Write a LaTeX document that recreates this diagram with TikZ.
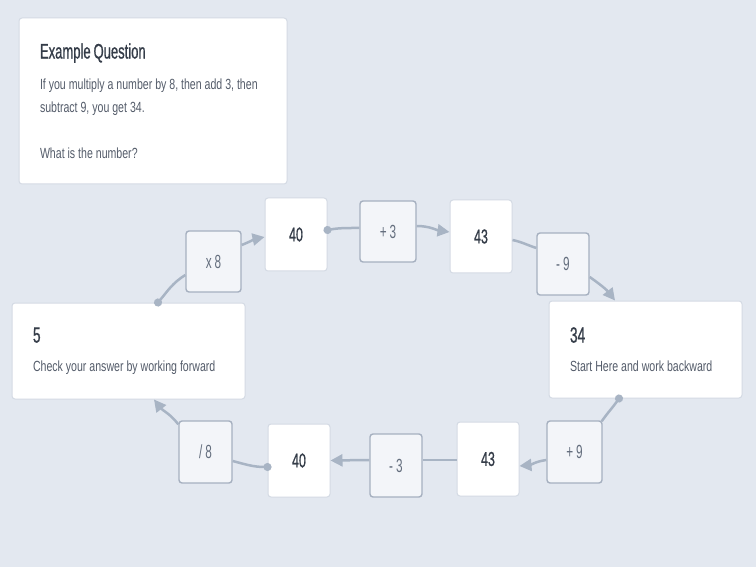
\documentclass[tikz,border=0pt]{standalone}
\usepackage{fontspec}
\setmainfont{Liberation Sans}[FakeStretch=0.72]
\newfontfamily\medfont{Liberation Sans}[FakeStretch=0.62, FakeBold=0.8]
\newfontfamily\opfont{Liberation Sans}[FakeStretch=0.62]
\usetikzlibrary{arrows.meta}
\definecolor{bgpage}{RGB}{227,232,240}
\definecolor{cardline}{RGB}{212,218,228}
\definecolor{opfill}{RGB}{243,245,249}
\definecolor{opline}{RGB}{166,176,192}
\definecolor{wirecol}{RGB}{168,180,196}
\definecolor{txtdark}{RGB}{52,60,72}
\definecolor{txtgray}{RGB}{84,92,106}
\definecolor{txtop}{RGB}{100,110,126}
% word spaces that shrink with the condensed glyphs (set inside the text,
% after align=left has put its own)
\newcommand{\narrowsp}{\spaceskip=0.2em plus 0.05em\relax\hyphenpenalty=10000\relax}
\newcommand{\opsp}{\spaceskip=0.16em\relax}
\tikzset{
  card/.style={
    rectangle, rounded corners=3pt, fill=white,
    draw=cardline, line width=1pt, inner sep=0pt
  },
  numbox/.style={card, minimum width=62pt, minimum height=73pt,
    text=txtdark, font=\medfont\fontsize{20}{22}\selectfont},
  opbox/.style={rectangle, rounded corners=3pt, fill=opfill,
    draw=opline, line width=1.4pt, inner sep=0pt,
    minimum width=54pt, minimum height=62pt,
    text=txtop, font=\opfont\fontsize{19}{22}\selectfont\opsp},
  bigbox/.style={card, align=left, text=txtgray,
    font=\fontsize{14.7}{29}\selectfont},
  wire/.style={draw=wirecol, line width=2.5pt},
  arr/.style={wire, -{Triangle[length=12pt,width=12pt]}},
  dotln/.style={wire, {Circle[length=8pt]}-, shorten <=-4pt}
}
\newcommand{\bignum}{\color{txtdark}\medfont\fontsize{22}{29}\selectfont}

\begin{document}
\begin{tikzpicture}[x=1pt, y=1pt]

  \fill[bgpage] (0,0) rectangle (756,-567);

  % question card
  \node[card, minimum width=268pt, minimum height=166pt,
        text width=226pt, align=left, text=txtgray,
        font=\fontsize{14.7}{23}\selectfont] (q) at (153,-101)
        {\narrowsp{\color{txtdark}\medfont\fontsize{21}{23}\selectfont Example Question}\\[8pt]
         If you multiply a number by 8, then add 3, then\\
         subtract 9, you get 34.\\[23pt]
         What is the number?};

  % the forward loop
  \node[opbox, minimum width=55pt, minimum height=61pt] (x8) at (213.5,-261.5) {x 8};
  \node[numbox] (n40a) at (296,-234.5) {40};
  \node[opbox, minimum width=56pt, minimum height=61pt] (p3) at (388,-231.5) {+ 3};
  \node[numbox] (n43a) at (481,-236.5) {43};
  \node[opbox, minimum width=52pt] (m9) at (563,-264) {- 9};

  \node[bigbox, minimum width=193pt, minimum height=97pt, text width=151pt]
        (res34) at (645.5,-349.5)
        {\narrowsp{\bignum 34}\\Start Here and work backward};
  \node[bigbox, minimum width=233pt, minimum height=96pt, text width=191pt]
        (ans5) at (128.5,-351)
        {\narrowsp{\bignum 5}\\Check your answer by working forward};

  % the backward loop
  \node[opbox, minimum width=55pt] (p9) at (574.5,-452) {+ 9};
  \node[numbox, minimum height=74pt] (n43b) at (488,-459) {43};
  \node[opbox, minimum width=52pt, minimum height=63pt] (m3) at (396,-465.5) {- 3};
  \node[numbox] (n40b) at (299,-460.5) {40};
  \node[opbox, minimum width=53pt] (d8) at (205.5,-452) {/ 8};

  \draw[dotln] ([xshift=29.5pt]ans5.north) to[out=50,in=212] ([yshift=-13.5pt]x8.west);
  \draw[arr] ([yshift=16.5pt]x8.east) to[out=22,in=192] ([yshift=-2.5pt]n40a.west);
  \draw[dotln] ([yshift=4.5pt]n40a.east) to[out=10,in=180] ([yshift=3.5pt]p3.west);
  \draw[arr] ([yshift=5.5pt]p3.east) to[out=0,in=172] ([yshift=4.5pt]n43a.west);
  \draw[wire] ([yshift=-3.5pt]n43a.east) to[out=-12,in=162] ([yshift=16pt]m9.west);
  \draw[arr] ([yshift=-13pt]m9.east) to[out=-35,in=128] ([xshift=-30.5pt]res34.north);

  \draw[dotln] ([xshift=-26.5pt]res34.south) to[out=-125,in=55] ([xshift=-1pt,yshift=-1pt]p9.north east);
  \draw[arr] ([yshift=-8pt]p9.west) to[out=188,in=5] ([yshift=-7pt]n43b.east);
  \draw[wire] ([yshift=-1pt]n43b.west) -- ([yshift=5.5pt]m3.east);
  \draw[arr] ([yshift=5.5pt]m3.west) -- (n40b.east);
  \draw[dotln] ([yshift=-6.5pt]n40b.west) to[out=180,in=-15] ([yshift=-9pt]d8.east);
  \draw[arr] ([yshift=-4pt]d8.north west) to[out=128,in=-52] ([xshift=25.5pt]ans5.south);

\end{tikzpicture}
\end{document}
